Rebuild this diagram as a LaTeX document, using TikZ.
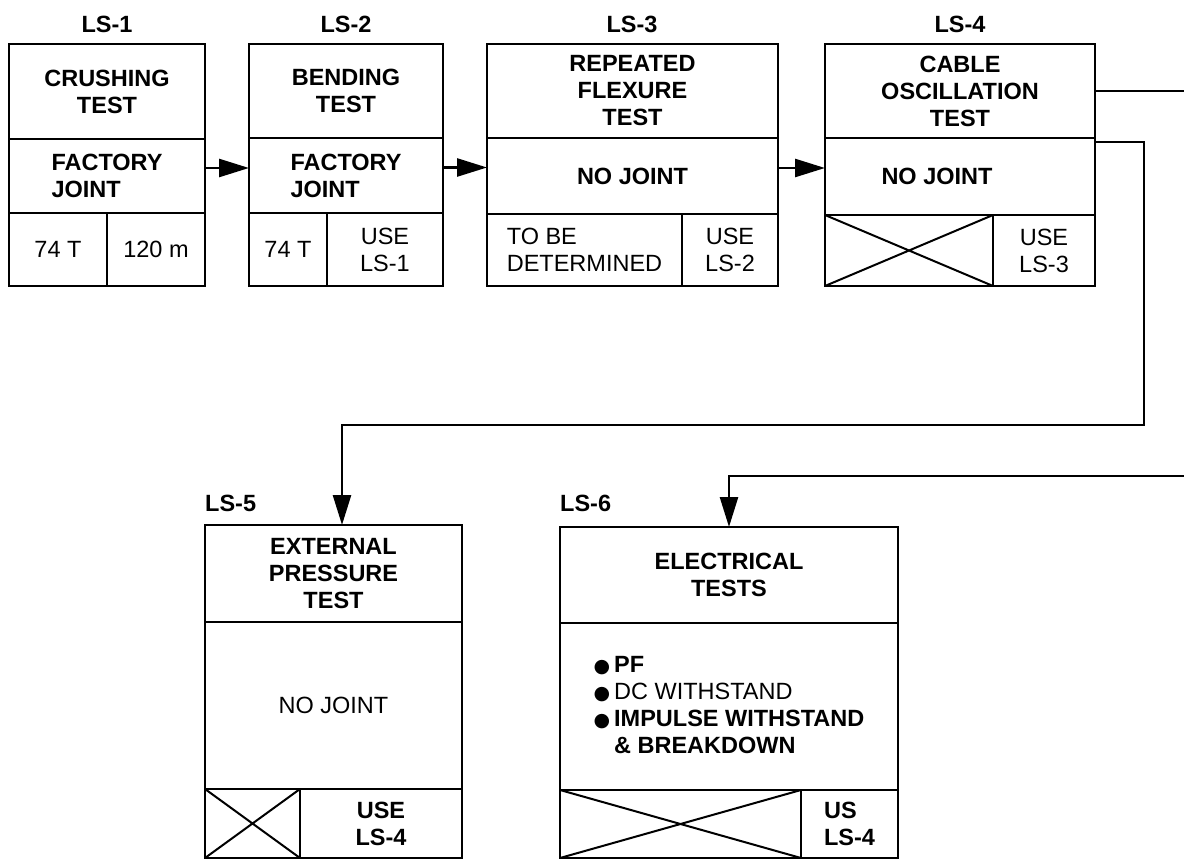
\documentclass[tikz,border=0pt]{standalone}
\usepackage{fontspec}
\setmainfont{Liberation Sans}
\newfontfamily\symfont{DejaVu Sans}
\usetikzlibrary{positioning, arrows.meta}

\newcommand{\blt}{{\symfont\fontsize{19}{19}\selectfont ●}\,}

\tikzset{
  cell/.style={draw, line width=2.6pt, outer sep=0pt, inner sep=0pt, align=center,
    font=\fontsize{23.5}{27}\selectfont},
  bcell/.style={cell, font=\bfseries\fontsize{23.5}{27}\selectfont},
  lslabel/.style={inner sep=0pt, font=\bfseries\fontsize{23.5}{27}\selectfont},
  flow/.style={line width=2.6pt, -{Triangle[length=30pt,width=18pt]}},
  wire/.style={line width=2.6pt},
  cross/.style={line width=2pt}
}

\begin{document}
\begin{tikzpicture}[x=1pt, y=-1pt]

\useasboundingbox (0,0) rectangle (1184,861);

% LS-1
\node[lslabel] (ls1) at (107,24) {LS-1};
\node[bcell, anchor=north west, minimum width=196pt, minimum height=95pt] (ls1t) at (9,44) {CRUSHING\\TEST};
\node[bcell, below=0pt of ls1t, minimum width=196pt, minimum height=74pt, align=left] (ls1m) {FACTORY\\JOINT};
\node[cell, anchor=north west, minimum width=98pt, minimum height=73pt] (ls1a) at (ls1m.south west) {74 T};
\node[cell, anchor=north west, minimum width=98pt, minimum height=73pt] (ls1b) at (ls1a.north east) {120 m};

% LS-2
\node[lslabel] (ls2) at (346,24) {LS-2};
\node[bcell, anchor=north west, minimum width=194pt, minimum height=94pt] (ls2t) at (249,44) {BENDING\\TEST};
\node[bcell, below=0pt of ls2t, minimum width=194pt, minimum height=75pt, align=left] (ls2m) {FACTORY\\JOINT};
\node[cell, anchor=north west, minimum width=78pt, minimum height=73pt] (ls2a) at (ls2m.south west) {74 T};
\node[cell, anchor=north west, minimum width=116pt, minimum height=73pt] (ls2b) at (ls2a.north east) {USE\\LS-1};

% LS-3
\node[lslabel] (ls3) at (632,24) {LS-3};
\node[bcell, anchor=north west, minimum width=291pt, minimum height=94pt] (ls3t) at (487,44) {REPEATED\\FLEXURE\\TEST};
\node[bcell, below=0pt of ls3t, minimum width=291pt, minimum height=76pt] (ls3m) {NO JOINT};
\node[cell, anchor=north west, minimum width=195pt, minimum height=72pt, align=left] (ls3a) at (ls3m.south west) {TO BE\\DETERMINED};
\node[cell, anchor=north west, minimum width=96pt, minimum height=72pt] (ls3b) at (ls3a.north east) {USE\\LS-2};

% LS-4
\node[lslabel] (ls4) at (960,24) {LS-4};
\node[bcell, anchor=north west, minimum width=270pt, minimum height=94pt] (ls4t) at (825,44) {CABLE\\OSCILLATION\\TEST};
\node[bcell, below=0pt of ls4t, minimum width=270pt, minimum height=77pt] (ls4m) {NO JOINT\hspace{46pt}};
\node[cell, anchor=north west, minimum width=168pt, minimum height=71pt] (ls4a) at (ls4m.south west) {};
\node[cell, anchor=north west, minimum width=102pt, minimum height=71pt] (ls4b) at (ls4a.north east) {USE\\LS-3};
\draw[cross] (ls4a.north west) -- (ls4a.south east) (ls4a.south west) -- (ls4a.north east);

% LS-5
\node[lslabel, anchor=west] (ls5) at (205,503) {LS-5};
\node[bcell, anchor=north west, minimum width=257pt, minimum height=97pt] (ls5t) at (205,525) {EXTERNAL\\PRESSURE\\TEST};
\node[cell, below=0pt of ls5t, minimum width=257pt, minimum height=167pt] (ls5m) {NO JOINT};
\node[cell, anchor=north west, minimum width=95pt, minimum height=69pt] (ls5a) at (ls5m.south west) {};
\node[bcell, anchor=north west, minimum width=162pt, minimum height=69pt] (ls5b) at (ls5a.north east) {USE\\LS-4};
\draw[cross] (ls5a.north west) -- (ls5a.south east) (ls5a.south west) -- (ls5a.north east);

% LS-6
\node[lslabel, anchor=west] (ls6) at (560,503) {LS-6};
\node[bcell, anchor=north west, minimum width=338pt, minimum height=96pt] (ls6t) at (560,527) {ELECTRICAL\\TESTS};
\node[bcell, below=0pt of ls6t, minimum width=338pt, minimum height=167pt, align=left] (ls6m)
  {\blt PF\\\blt{\mdseries DC WITHSTAND}\\\blt IMPULSE WITHSTAND\\\phantom{\blt}\& BREAKDOWN};
\node[cell, anchor=north west, minimum width=241pt, minimum height=68pt] (ls6a) at (ls6m.south west) {};
\node[bcell, anchor=north west, minimum width=97pt, minimum height=68pt, align=left] (ls6b) at (ls6a.north east) {US\\LS-4};
\draw[cross] (ls6a.north west) -- (ls6a.south east) (ls6a.south west) -- (ls6a.north east);

% Стрелки между блоками
\draw[flow] ([yshift=8pt]ls1m.east) -- ([yshift=8pt]ls1m.east -| ls2m.west);
\draw[flow] ([yshift=8pt]ls2m.east) -- ([yshift=8pt]ls2m.east -| ls3m.west);
\draw[flow] ([yshift=8pt]ls3m.east) -- ([yshift=8pt]ls3m.east -| ls4m.west);

% Выходы LS-4
\coordinate (edge) at (1184,0);
\draw[wire] (ls4t.east) -- (ls4t.east -| edge);
\coordinate (bend) at (1144,425);
\draw[flow] ([yshift=-4pt]ls4m.north east) -| (bend) -| ([xshift=8.5pt]ls5t.north);
\coordinate (in6) at (1184,476);
\draw[flow] (in6) -| (ls6t.north);

\end{tikzpicture}
\end{document}
